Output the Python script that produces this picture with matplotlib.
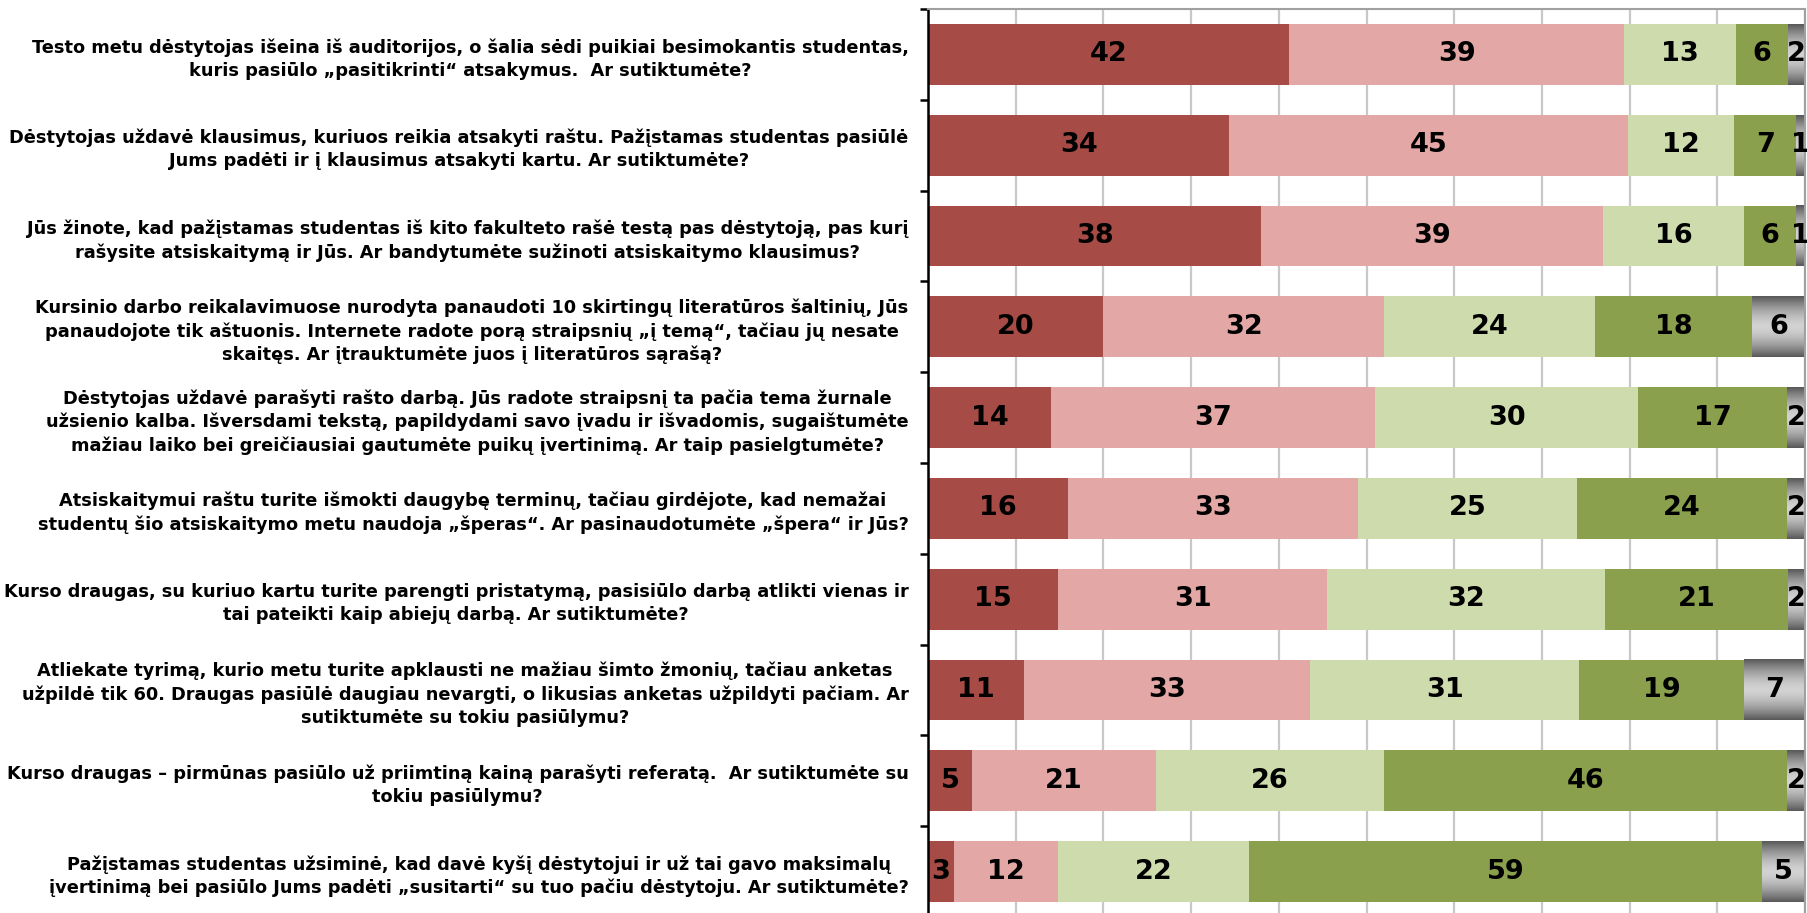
import numpy as np
import matplotlib.pyplot as plt
from matplotlib.colors import LinearSegmentedColormap

questions = [
    "Testo metu dėstytojas išeina iš auditorijos, o šalia sėdi puikiai besimokantis studentas,\n"
    "kuris pasiūlo „pasitikrinti“ atsakymus.  Ar sutiktumėte?",
    "Dėstytojas uždavė klausimus, kuriuos reikia atsakyti raštu. Pažįstamas studentas pasiūlė\n"
    "Jums padėti ir į klausimus atsakyti kartu. Ar sutiktumėte?",
    "Jūs žinote, kad pažįstamas studentas iš kito fakulteto rašė testą pas dėstytoją, pas kurį\n"
    "rašysite atsiskaitymą ir Jūs. Ar bandytumėte sužinoti atsiskaitymo klausimus?",
    "Kursinio darbo reikalavimuose nurodyta panaudoti 10 skirtingų literatūros šaltinių, Jūs\n"
    "panaudojote tik aštuonis. Internete radote porą straipsnių „į temą“, tačiau jų nesate\n"
    "skaitęs. Ar įtrauktumėte juos į literatūros sąrašą?",
    "Dėstytojas uždavė parašyti rašto darbą. Jūs radote straipsnį ta pačia tema žurnale\n"
    "užsienio kalba. Išversdami tekstą, papildydami savo įvadu ir išvadomis, sugaištumėte\n"
    "mažiau laiko bei greičiausiai gautumėte puikų įvertinimą. Ar taip pasielgtumėte?",
    "Atsiskaitymui raštu turite išmokti daugybę terminų, tačiau girdėjote, kad nemažai\n"
    "studentų šio atsiskaitymo metu naudoja „šperas“. Ar pasinaudotumėte „špera“ ir Jūs?",
    "Kurso draugas, su kuriuo kartu turite parengti pristatymą, pasisiūlo darbą atlikti vienas ir\n"
    "tai pateikti kaip abiejų darbą. Ar sutiktumėte?",
    "Atliekate tyrimą, kurio metu turite apklausti ne mažiau šimto žmonių, tačiau anketas\n"
    "užpildė tik 60. Draugas pasiūlė daugiau nevargti, o likusias anketas užpildyti pačiam. Ar\n"
    "sutiktumėte su tokiu pasiūlymu?",
    "Kurso draugas – pirmūnas pasiūlo už priimtiną kainą parašyti referatą.  Ar sutiktumėte su\n"
    "tokiu pasiūlymu?",
    "Pažįstamas studentas užsiminė, kad davė kyšį dėstytojui ir už tai gavo maksimalų\n"
    "įvertinimą bei pasiūlo Jums padėti „susitarti“ su tuo pačiu dėstytoju. Ar sutiktumėte?",
]

s1 = [42, 34, 38, 20, 14, 16, 15, 11, 5, 3]
s2 = [39, 45, 39, 32, 37, 33, 31, 33, 21, 12]
s3 = [13, 12, 16, 24, 30, 25, 32, 31, 26, 22]
s4 = [6, 7, 6, 18, 17, 24, 21, 19, 46, 59]
s5 = [2, 1, 1, 6, 2, 2, 2, 7, 2, 5]

colors = ['#a64b45', '#e3a8a6', '#cedcad', '#8aa04c']
gray_cmap = LinearSegmentedColormap.from_list('g', ['#5a5a5a', '#d2d2d2'])

data = np.array([s1, s2, s3, s4, s5], dtype=float)
pct = data / data.sum(axis=0) * 100
n = len(questions)
y = np.arange(n)
h = 0.67

fig = plt.figure(figsize=(18.08, 9.13), dpi=100)
ax = fig.add_axes([928 / 1808, -4 / 913, 877 / 1808, 908 / 913])

left = np.zeros(n)
for k in range(4):
    ax.barh(y, pct[k], left=left, height=h, color=colors[k], zorder=2)
    for i in range(n):
        ax.text(left[i] + pct[k][i] / 2, y[i], str(int(data[k][i])), ha='center', va='center',
                fontsize=19.5, fontweight='bold', family='DejaVu Sans', zorder=4)
    left += pct[k]

# gray segment with a vertical gradient
t = np.linspace(0, 1, 64)
grad = (1 - np.abs(2 * t - 1) ** 1.6).reshape(-1, 1)
for i in range(n):
    ax.imshow(grad, cmap=gray_cmap, aspect='auto', interpolation='bilinear',
              extent=(left[i], left[i] + pct[4][i], y[i] + h / 2, y[i] - h / 2), zorder=2)
    ax.text(left[i] + pct[4][i] / 2, y[i], str(int(data[4][i])), ha='center', va='center',
            fontsize=19.5, fontweight='bold', family='DejaVu Sans', zorder=4)

ax.set_xlim(0, 100)
ax.set_ylim(n - 0.5, -0.5)
ax.set_xticks(np.arange(0, 101, 10))
ax.xaxis.grid(True, color='#c8c8c8', linewidth=1.6, zorder=0)
ax.set_axisbelow(True)
ax.tick_params(axis='x', length=0, labelbottom=False)

ax.set_yticks(y)
ax.set_yticklabels(questions)
ax.set_yticks(np.arange(-0.5, n, 1), minor=True)
ax.tick_params(axis='y', which='major', length=0, pad=14)
ax.tick_params(axis='y', which='minor', length=6, width=1.8, color='black')
for lab in ax.get_yticklabels():
    lab.set_fontfamily('DejaVu Sans')
    lab.set_fontweight('bold')
    lab.set_fontsize(12.8)
    lab.set_multialignment('center')
    lab.set_linespacing(1.36)

ax.spines['left'].set_color('black')
ax.spines['left'].set_linewidth(1.8)
for s in ['top', 'right', 'bottom']:
    ax.spines[s].set_color('#a0a0a0')
    ax.spines[s].set_linewidth(1.5)

fig.savefig('out.png', dpi=100)
